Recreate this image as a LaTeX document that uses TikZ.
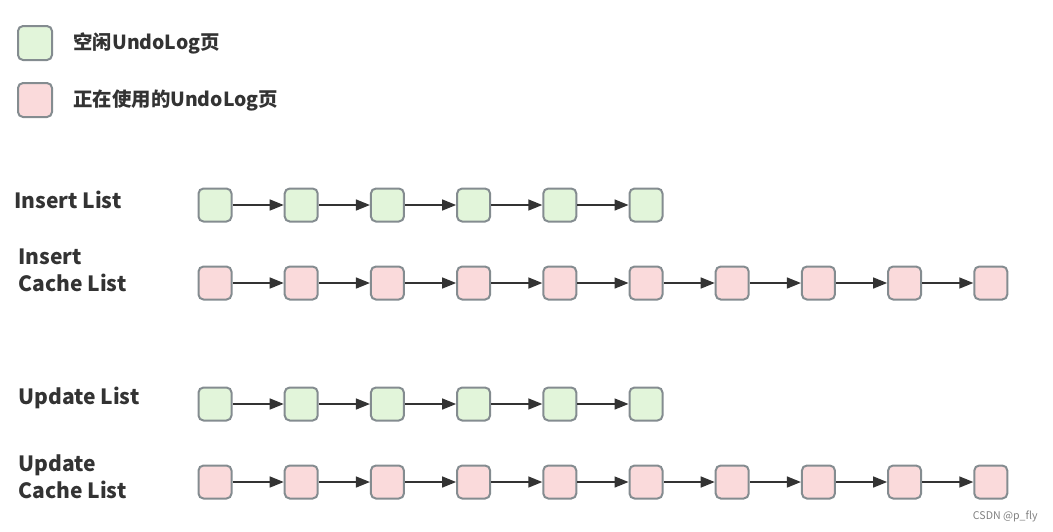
\documentclass[tikz,border=0pt]{standalone}
\usepackage{fontspec}
\setmainfont{Noto Sans CJK SC}
\usetikzlibrary{arrows.meta,positioning}
\definecolor{freeg}{HTML}{E2F5DA}
\definecolor{usedr}{HTML}{FADADB}
\definecolor{edgegray}{HTML}{848C90}
\definecolor{inkdk}{HTML}{333333}

\begin{document}
\begin{tikzpicture}[x=0.5pt,y=-0.5pt,>={Triangle[length=7pt,width=5.5pt]},
  page/.style={draw=edgegray,line width=1pt,rounded corners=2.5pt,minimum size=16.5pt,inner sep=0pt},
  free/.style={page,fill=freeg},
  used/.style={page,fill=usedr},
  link/.style={->,draw=inkdk,fill=inkdk,line width=0.75pt},
  lbl/.style={anchor=west,align=left,inner sep=0pt,text=inkdk,font=\bfseries\fontsize{10.5}{13.5}\selectfont},
  key/.style={anchor=west,inner sep=0pt,text=inkdk,font=\bfseries\fontsize{9.7}{12}\selectfont}]
\useasboundingbox (0,0) rectangle (1053,531);
% legend
\node[free,minimum size=17pt] (kfree) at (35,43) {};
\node[used,minimum size=17pt] (kused) at (35,100) {};
\node[key] (tfree) at (73,43) {空闲UndoLog页};
\node[key] (tused) at (73,100) {正在使用的UndoLog页};
% list labels
\node[lbl] (lins) at (14,200) {Insert List};
\node[lbl] (linsc) at (18,270) {Insert\\Cache List};
\node[lbl] (lupd) at (18,398) {Update List};
\node[lbl] (lupdc) at (18,477) {Update\\Cache List};
% page chains
\foreach \r/\y/\n/\s in {ins/205/6/free,insc/283/10/used,upd/404/6/free,updc/482/10/used}{
  \foreach \i in {1,...,\n}
    \node[\s] (\r\i) at ({215+86.2*(\i-1)},\y) {};
  \foreach \i in {2,...,\n}{
    \pgfmathtruncatemacro\p{\i-1}
    \draw[link] (\r\p) -- (\r\i);
  }
}
\node[anchor=east,inner sep=0pt,text=black!50,font=\fontsize{5.3}{6}\selectfont] (mark) at (1038,516) {CSDN @p\_fly};
\end{tikzpicture}
\end{document}
